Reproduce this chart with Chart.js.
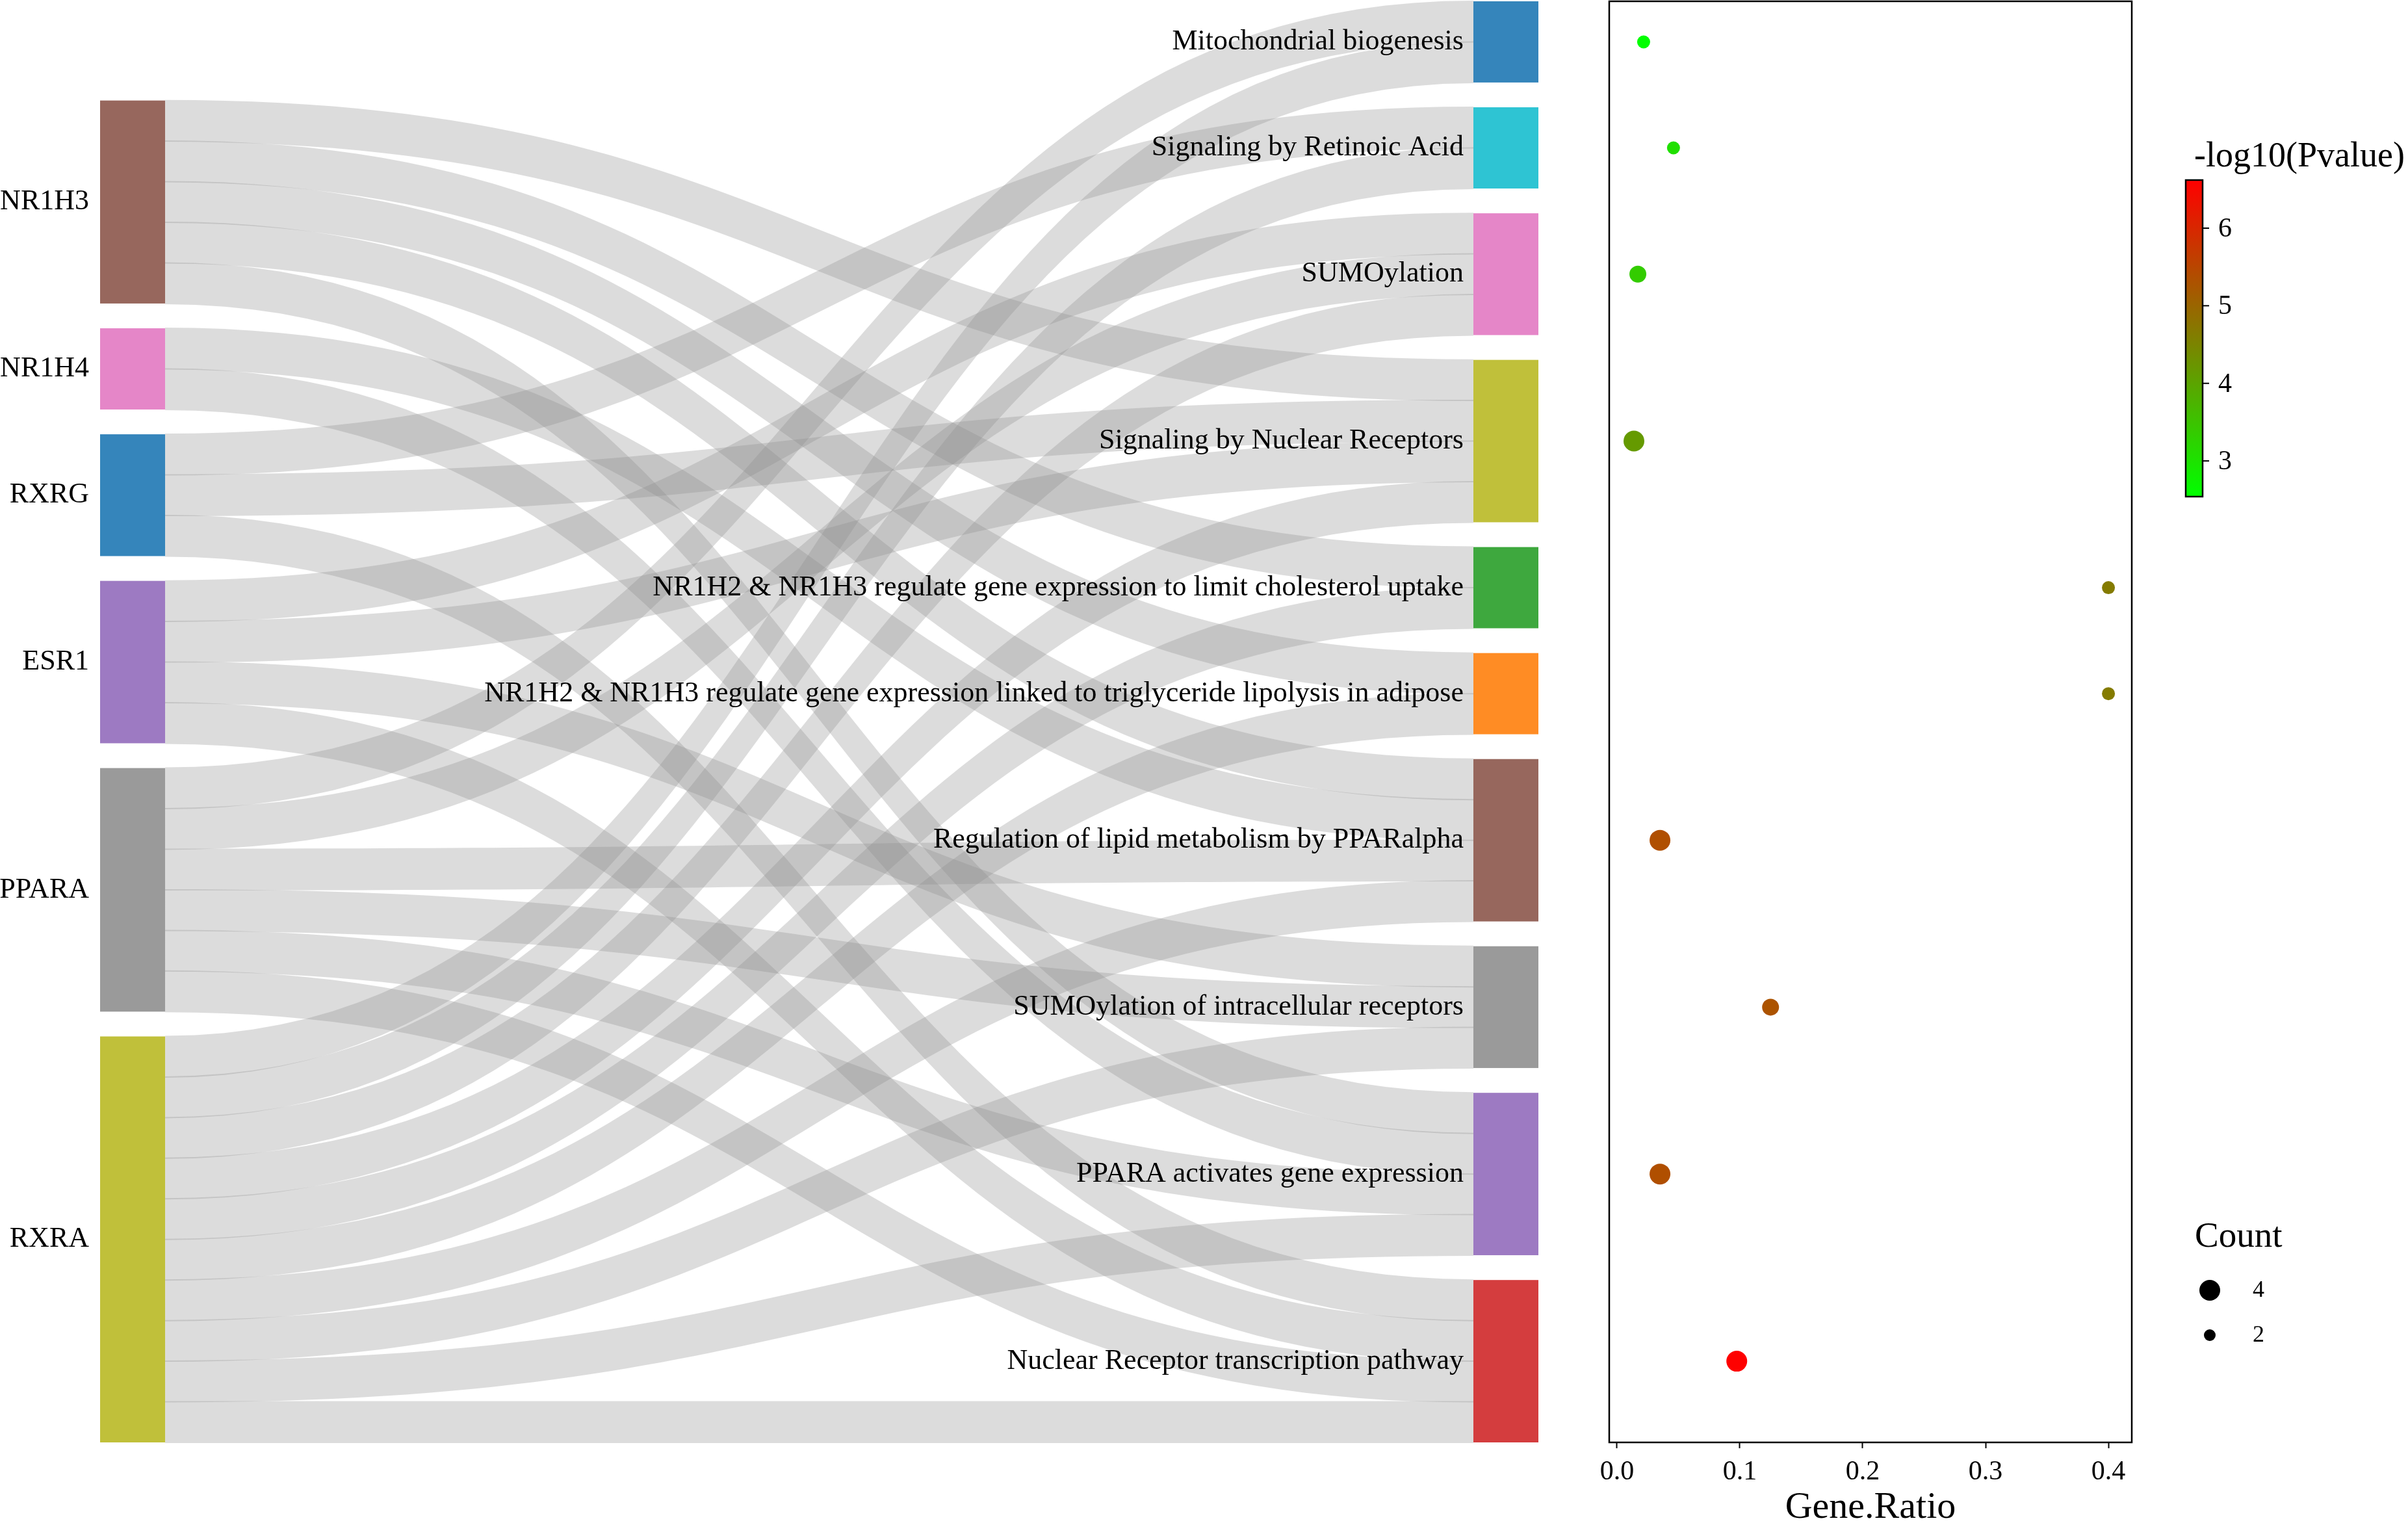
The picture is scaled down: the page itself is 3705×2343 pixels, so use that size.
<!DOCTYPE html>
<html>
<head>
<meta charset="utf-8">
<script src="https://cdn.jsdelivr.net/npm/chart.js@4.4.0/dist/chart.umd.min.js"></script>
<style>
  html, body { margin: 0; padding: 0; background: #fff; }
  .wrap { position: absolute; left: 0; top: 0; width: 3705px; height: 2343px; }
</style>
</head>
<body>
<div class="wrap"><canvas id="sankey"></canvas></div>
<div class="wrap"><canvas id="dots"></canvas></div>
<script>
// genes (left column) and pathways (right column), top to bottom
const genes = ['NR1H3', 'NR1H4', 'RXRG', 'ESR1', 'PPARA', 'RXRA'];
const pathways = [
    'Mitochondrial biogenesis',
    'Signaling by Retinoic Acid',
    'SUMOylation',
    'Signaling by Nuclear Receptors',
    'NR1H2 & NR1H3 regulate gene expression to limit cholesterol uptake',
    'NR1H2 & NR1H3 regulate gene expression linked to triglyceride lipolysis in adipose',
    'Regulation of lipid metabolism by PPARalpha',
    'SUMOylation of intracellular receptors',
    'PPARA activates gene expression',
    'Nuclear Receptor transcription pathway'
];

// gene -> pathway memberships (one ribbon each)
const linkGene = [
    'NR1H3', 'NR1H3', 'NR1H3', 'NR1H3', 'NR1H3',
    'NR1H4', 'NR1H4',
    'RXRG', 'RXRG', 'RXRG',
    'ESR1', 'ESR1', 'ESR1', 'ESR1',
    'PPARA', 'PPARA', 'PPARA', 'PPARA', 'PPARA', 'PPARA',
    'RXRA', 'RXRA', 'RXRA', 'RXRA', 'RXRA', 'RXRA', 'RXRA', 'RXRA', 'RXRA', 'RXRA'
];
const linkPathway = [
    3, 4, 5, 6, 8,
    6, 8,
    1, 3, 9,
    2, 3, 7, 9,
    0, 2, 6, 7, 8, 9,
    0, 1, 2, 3, 4, 5, 6, 7, 8, 9
].map(i => pathways[i]);

// enrichment results, same order as pathways
const geneRatio = [0.0217, 0.046, 0.017, 0.0138, 0.4, 0.4, 0.035, 0.125, 0.035, 0.0975];
const logP = [2.56, 3.05, 3.35, 4.15, 4.65, 4.65, 5.35, 5.3, 5.35, 6.6];
const geneCount = [2, 2, 3, 4, 2, 2, 4, 3, 4, 4];

const ratioTicks = [0, 0.1, 0.2, 0.3, 0.4];
const colorTicks = [3, 4, 5, 6];
const countLegend = [4, 2];
const pRange = [2.54, 6.62];

// colours
const geneColors = ['#97675D', '#E586C8', '#3585BB', '#9D7AC2', '#9A9A9A', '#C0C03A'];
const pathColors = ['#3585BB', '#2EC4D3', '#E586C8', '#C0C03A', '#3EA83E', '#FF8C24',
                    '#97675D', '#9A9A9A', '#9D7AC2', '#D43D3E'];
const serif = '"Liberation Serif", "Times New Roman", serif';

// ---- sankey layout (in ribbon units) ----
const gap = 0.611;
const nodeWidth = 0.0452;
const countOf = (name, list) => list.filter(n => n === name).length;
const geneSize = genes.map(g => countOf(g, linkGene));
const pathSize = pathways.map(p => countOf(p, linkPathway));
const rightSpan = linkGene.length + gap * (pathways.length - 1);
const leftSpan = linkGene.length + gap * (genes.length - 1);

function stack(sizes, start) {
    let y = start;
    return sizes.map(s => {
        const n = { y0: y, y1: y + s };
        y += s + gap;
        return n;
    });
}
const geneNodes = stack(geneSize, rightSpan - leftSpan);
const pathNodes = stack(pathSize, 0);

const srcOff = genes.map(() => 0);
const tgtOff = pathways.map(() => 0);
const ribbons = linkGene.map((g, i) => {
    const s = genes.indexOf(g), t = pathways.indexOf(linkPathway[i]);
    const r = { s0: geneNodes[s].y0 + srcOff[s], t0: pathNodes[t].y0 + tgtOff[t] };
    srcOff[s] += 1;
    tgtOff[t] += 1;
    return r;
});

const sankeyPlugin = {
    id: 'sankeyDraw',
    afterDatasetsDraw(chart) {
        const { ctx, scales: { x, y } } = chart;
        const xl = x.getPixelForValue(0), xa = x.getPixelForValue(nodeWidth);
        const xb = x.getPixelForValue(1 - nodeWidth), xr = x.getPixelForValue(1);
        const xm = (xa + xb) / 2;
        ctx.save();
        // ribbons
        ctx.fillStyle = 'rgba(140,140,140,0.3)';
        ribbons.forEach(r => {
            const a0 = y.getPixelForValue(r.s0) - 1, a1 = y.getPixelForValue(r.s0 + 1) + 1;
            const b0 = y.getPixelForValue(r.t0) - 1, b1 = y.getPixelForValue(r.t0 + 1) + 1;
            ctx.beginPath();
            ctx.moveTo(xa, a0);
            ctx.bezierCurveTo(xm, a0, xm, b0, xb, b0);
            ctx.lineTo(xb, b1);
            ctx.bezierCurveTo(xm, b1, xm, a1, xa, a1);
            ctx.closePath();
            ctx.fill();
        });
        // nodes
        geneNodes.forEach((n, i) => {
            ctx.fillStyle = geneColors[i];
            const t = y.getPixelForValue(n.y0), b = y.getPixelForValue(n.y1);
            ctx.fillRect(xl, t, xa - xl, b - t);
        });
        pathNodes.forEach((n, i) => {
            ctx.fillStyle = pathColors[i];
            const t = y.getPixelForValue(n.y0), b = y.getPixelForValue(n.y1);
            ctx.fillRect(xb, t, xr - xb, b - t);
        });
        // labels
        ctx.fillStyle = '#000';
        ctx.font = '44px ' + serif;
        ctx.textAlign = 'right';
        ctx.textBaseline = 'middle';
        geneNodes.forEach((n, i) => {
            ctx.fillText(genes[i], xl - 17, y.getPixelForValue((n.y0 + n.y1) / 2));
        });
        pathNodes.forEach((n, i) => {
            ctx.fillText(pathways[i], xb - 15, y.getPixelForValue((n.y0 + n.y1) / 2));
        });
        ctx.restore();
    }
};

new Chart(document.getElementById('sankey'), {
    type: 'scatter',
    data: { datasets: [{ data: [] }] },
    options: {
        responsive: true,
        maintainAspectRatio: false,
        animation: false,
        events: [],
        layout: { autoPadding: false, padding: { left: 154, right: 1338, top: 2, bottom: 124 } },
        plugins: { legend: { display: false }, tooltip: { enabled: false } },
        scales: {
            x: { type: 'linear', display: false, min: 0, max: 1 },
            y: { type: 'linear', display: false, reverse: true, min: 0, max: rightSpan }
        }
    },
    plugins: [sankeyPlugin]
});

// ---- dot plot ----
function colorOf(v) {
    const t = Math.max(0, Math.min(1, (v - pRange[0]) / (pRange[1] - pRange[0])));
    return `rgb(${Math.round(255 * t)},${Math.round(255 * (1 - t))},0)`;
}
const sizeOf = c => 4 + 3 * c;

const legendPlugin = {
    id: 'dotLegend',
    afterDraw(chart) {
        const { ctx, chartArea: a } = chart;
        ctx.save();
        // panel frame
        ctx.strokeStyle = '#000';
        ctx.lineWidth = 2.5;
        ctx.strokeRect(a.left, a.top, a.right - a.left, a.bottom - a.top);

        // colour bar
        const bx = 3363, bw = 26, bt = 277, bb = 764;
        const grad = ctx.createLinearGradient(0, bt, 0, bb);
        grad.addColorStop(0, colorOf(pRange[1]));
        grad.addColorStop(1, colorOf(pRange[0]));
        ctx.fillStyle = grad;
        ctx.fillRect(bx, bt, bw, bb - bt);
        ctx.lineWidth = 2.5;
        ctx.strokeRect(bx, bt, bw, bb - bt);
        ctx.fillStyle = '#000';
        ctx.font = '42px ' + serif;
        ctx.textAlign = 'left';
        ctx.textBaseline = 'middle';
        ctx.lineWidth = 2;
        colorTicks.forEach(v => {
            const yy = bt + (pRange[1] - v) / (pRange[1] - pRange[0]) * (bb - bt);
            ctx.beginPath();
            ctx.moveTo(bx + bw, yy);
            ctx.lineTo(bx + bw + 10, yy);
            ctx.stroke();
            ctx.fillText(String(v), bx + bw + 24, yy + 2);
        });
        ctx.font = '54px ' + serif;
        ctx.fillText('-log10(Pvalue)', 3376, 242);

        // size legend
        ctx.font = '55px ' + serif;
        ctx.fillText('Count', 3377, 1904);
        ctx.font = '36px ' + serif;
        countLegend.forEach((c, i) => {
            const yy = 1985 + i * 69;
            ctx.beginPath();
            ctx.arc(3400, yy, c === 4 ? 16 : 9, 0, Math.PI * 2);
            ctx.fill();
            ctx.fillText(String(c), 3466, yy + 1);
        });
        ctx.restore();
    }
};

new Chart(document.getElementById('dots'), {
    type: 'scatter',
    data: {
        datasets: [{
            data: pathways.map((p, i) => ({ x: geneRatio[i], y: (pathNodes[i].y0 + pathNodes[i].y1) / 2 })),
            pointRadius: geneCount.map(sizeOf),
            pointBackgroundColor: logP.map(colorOf),
            pointBorderWidth: 0
        }]
    },
    options: {
        responsive: true,
        maintainAspectRatio: false,
        animation: false,
        events: [],
        layout: { autoPadding: false, padding: { left: 2476, right: 425, top: 2, bottom: 0 } },
        plugins: { legend: { display: false }, tooltip: { enabled: false } },
        scales: {
            x: {
                type: 'linear',
                min: -0.0063,
                max: 0.419,
                afterFit: s => { s.height = 124; },
                afterBuildTicks: s => { s.ticks = ratioTicks.map(v => ({ value: v })); },
                ticks: {
                    color: '#000',
                    padding: 12,
                    font: { family: serif, size: 42 },
                    callback: v => Number(v).toFixed(1),
                    maxRotation: 0,
                    autoSkip: false
                },
                grid: { drawOnChartArea: false, drawTicks: true, tickLength: 9, tickWidth: 2, tickColor: '#000' },
                border: { display: false },
                title: {
                    display: true,
                    text: 'Gene.Ratio',
                    color: '#000',
                    font: { family: serif, size: 58, lineHeight: 1 },
                    padding: { top: 0, bottom: -6 }
                }
            },
            y: { type: 'linear', display: false, reverse: true, min: 0, max: rightSpan }
        }
    },
    plugins: [legendPlugin]
});
</script>
</body>
</html>
